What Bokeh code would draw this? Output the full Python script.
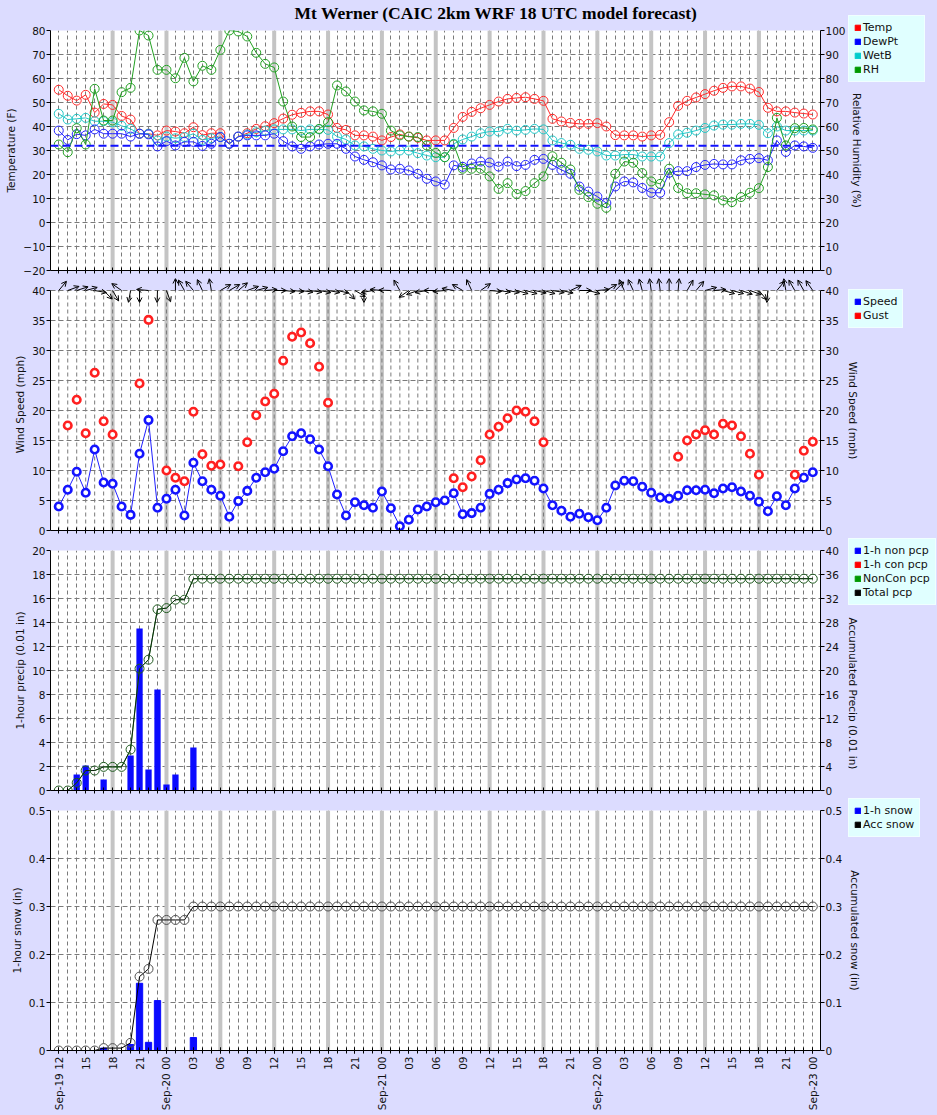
import math
import numpy as np
from bokeh.plotting import figure
from bokeh.models import (Range1d, LinearAxis, FixedTicker, Span, Legend, LegendItem, Label,
                          ColumnDataSource, Arrow, OpenHead, CustomJSTickFormatter, BoxAnnotation)
from bokeh.layouts import column, row
from bokeh.embed import file_html
from bokeh.resources import INLINE

NaN = float("nan")

# ---------------- data ----------------
title_text = "Mt Werner (CAIC 2km WRF 18 UTC model forecast)"
hours = list(range(85))  # hours after Sep-19 12 UTC
tick_hours = list(range(0, 85, 3))
tick_labels = ["Sep-19 12", "15", "18", "21", "Sep-20 00", "03", "06", "09", "12", "15", "18", "21",
               "Sep-21 00", "03", "06", "09", "12", "15", "18", "21",
               "Sep-22 00", "03", "06", "09", "12", "15", "18", "21", "Sep-23 00"]
day_lines = list(range(6, 84, 6))

temp = [55.3, 52.8, 50.8, 53.2, 45.8, 49.4, 49.0, 44.4, 42.9, 37.0,
        37.0, 36.3, 38.3, 37.9, 37.2, 39.7, 36.4, 37.2, 37.2, 32.8,
        35.8, 37.2, 39.0, 40.1, 41.4, 43.3, 44.9, 45.7, 46.3, 46.3,
        45.0, 39.4, 38.6, 36.3, 36.3, 35.8, 34.2, 35.6, 36.7, 35.8,
        35.3, 34.2, 34.2, 34.2, 39.4, 44.0, 46.1, 47.6, 49.0, 50.4,
        51.5, 51.9, 52.2, 51.5, 50.7, 43.2, 42.1, 41.5, 41.1, 41.1,
        41.4, 40.0, 36.4, 36.3, 36.3, 35.8, 36.3, 36.5, 41.8, 48.6,
        50.7, 52.1, 53.5, 54.9, 56.1, 56.7, 56.7, 55.8, 54.4, 47.8,
        46.3, 46.3, 45.8, 45.4, 45.0]
dewpt = [38.3, 34.4, 36.8, 36.3, 38.8, 37.0, 37.0, 37.0, 35.8, 37.0,
         36.7, 31.7, 33.9, 32.1, 33.6, 33.6, 31.9, 32.8, 35.6, 32.8,
         35.8, 36.3, 36.3, 36.3, 37.0, 33.9, 31.7, 30.7, 31.7, 32.5,
         32.8, 32.8, 30.7, 27.5, 26.1, 25.1, 23.8, 22.1, 22.4, 21.7,
         20.3, 18.2, 17.1, 15.8, 23.8, 23.2, 24.6, 25.4, 25.0, 23.3,
         25.4, 23.5, 24.0, 26.1, 26.5, 24.0, 21.9, 20.3, 15.0, 12.9,
         10.8, 8.1, 15.0, 17.1, 16.7, 14.4, 12.4, 12.4, 20.7, 21.4,
         21.4, 23.1, 24.0, 24.4, 24.2, 24.2, 25.9, 26.5, 26.8, 25.9,
         34.2, 29.4, 32.1, 31.7, 31.1]
wetb = [45.3, 42.9, 43.2, 43.6, 42.2, 42.2, 41.8, 40.3, 39.0, 37.0,
        37.0, 34.2, 35.8, 35.1, 35.6, 37.0, 34.4, 35.1, 35.6, 32.8,
        35.8, 36.7, 37.6, 38.3, 38.8, 38.8, 38.8, 38.3, 38.8, 38.8,
        38.6, 35.8, 34.6, 32.1, 31.7, 30.7, 30.0, 29.6, 30.0, 30.0,
        28.9, 27.9, 27.2, 27.2, 32.8, 34.6, 35.8, 37.2, 37.9, 37.9,
        39.0, 38.3, 38.6, 39.0, 38.8, 34.2, 33.1, 32.4, 30.7, 30.3,
        29.6, 27.9, 27.9, 28.3, 28.3, 27.5, 27.5, 27.5, 33.1, 36.7,
        37.4, 38.3, 39.4, 40.4, 40.8, 40.8, 41.1, 41.1, 40.7, 37.2,
        40.0, 38.3, 38.3, 38.3, 38.3]
rh = [52.5, 49.3, 59.3, 52.5, 75.7, 62.5, 62.5, 74.3, 76.1, 100.0,
      97.9, 83.6, 83.6, 80.1, 88.6, 78.8, 85.3, 83.6, 91.9, 100.0,
      99.6, 97.5, 90.7, 86.1, 84.6, 70.4, 60.0, 55.6, 55.6, 59.0,
      61.8, 77.1, 74.6, 70.4, 66.7, 66.3, 65.3, 58.3, 56.3, 55.8,
      55.6, 52.1, 49.0, 47.2, 52.5, 42.4, 42.4, 42.4, 39.2, 34.0,
      36.4, 31.9, 33.1, 36.4, 39.2, 47.6, 44.9, 42.1, 33.6, 30.6,
      27.8, 26.1, 40.3, 45.4, 44.9, 40.6, 37.1, 36.1, 42.4, 34.4,
      32.2, 32.2, 31.7, 31.3, 29.2, 28.5, 30.6, 32.4, 34.3, 43.1,
      63.6, 52.1, 59.3, 59.4, 58.8]
freezing_f = 32

speed = [4.0, 6.8, 9.8, 6.3, 13.5, 8.0, 7.8, 4.0, 2.6, 12.8,
         18.4, 3.8, 5.3, 6.8, 2.5, 11.3, 8.2, 6.8, 5.8, 2.3,
         4.9, 6.6, 8.8, 9.7, 10.3, 13.2, 15.7, 16.2, 15.2, 13.5,
         10.7, 6.0, 2.5, 4.7, 4.2, 3.8, 6.5, 3.7, 0.7, 1.8,
         3.5, 4.0, 4.7, 5.0, 6.2, 2.7, 2.9, 3.8, 6.1, 6.8,
         7.9, 8.5, 8.7, 8.3, 7.0, 4.2, 3.3, 2.3, 2.8, 2.2,
         1.7, 3.8, 7.5, 8.3, 8.2, 7.3, 6.3, 5.5, 5.3, 5.8,
         6.7, 6.7, 6.8, 6.2, 7.0, 7.2, 6.5, 5.8, 4.8, 3.2,
         5.7, 4.2, 7.0, 8.8, 9.7]
gust = [NaN, 17.5, 21.8, 16.2, 26.3, 18.2, 16.0, NaN, NaN, 24.5,
        35.1, NaN, 10.0, 8.8, 8.2, 19.8, 12.7, 10.8, 11.0, NaN,
        10.7, 14.7, 19.2, 21.5, 22.8, 28.3, 32.3, 33.0, 31.2, 27.3,
        21.3, NaN, NaN, NaN, NaN, NaN, NaN, NaN, NaN, NaN,
        NaN, NaN, NaN, NaN, 8.7, 7.2, 9.0, 11.7, 16.0, 17.3,
        18.7, 20.0, 19.8, 18.2, 14.7, NaN, NaN, NaN, NaN, NaN,
        NaN, NaN, NaN, NaN, NaN, NaN, NaN, NaN, NaN, 12.3,
        15.0, 16.0, 16.7, 16.0, 17.8, 17.5, 15.7, 12.8, 9.3, NaN,
        NaN, NaN, 9.3, 13.3, 14.8]
# meteorological wind direction (degrees, direction the wind blows from)
wind_dir = [220, 250, 252, 255, 280, 315, 330, 125, 10, 0,
            95, 2, 340, 180, 150, 140, 155, 170, 240, 240,
            230, 250, 255, 265, 270, 275, 275, 278, 278, 280,
            280, 282, 315, 300, 0, 80, 95, 92, 150, 55,
            70, 80, 90, 85, 100, 120, 155, 235, 275, 278,
            280, 285, 285, 282, 285, 280, 282, 245, 270, 285,
            265, 240, 225, 155, 155, 165, 172, 173, 180, 185,
            210, 220, 255, 265, 285, 285, 288, 290, 320, 5,
            220, 170, 150, 150, 145]

pcp_non = [0, 0, 1.33, 2.08, 0, 0.92, 0, 0, 2.92, 13.5,
           1.75, 8.42, 0.5, 1.33, 0, 3.58] + [0] * 69
pcp_con = [0] * 85
acc_pcp = [0, 0, 1.28, 3.33, 3.33, 3.94, 3.94, 3.94, 6.83, 20.3,
           21.8, 30.2, 30.4, 31.8, 31.8] + [35.3] * 70

snow_1h = [0, 0, 0, 0, 0, 0.005, 0, 0, 0.0125, 0.14,
           0.017, 0.104, 0, 0, 0, 0.027] + [0] * 69
acc_snow = [0, 0, 0, 0, 0, 0.005, 0.005, 0.005, 0.016, 0.154,
            0.170, 0.272, 0.272, 0.272, 0.272] + [0.3] * 70

# ---------------- style ----------------
BG = "#dcdcff"
LEG_BG = "#e0ffff"
FONT = "DejaVu Sans"
X0, X1 = -0.92, 84.86
MAIN_W = 848
SIDE_W = 937 - MAIN_W
FRAME_W = 772
GRID_C = "#7a7a7a"
TXT = "#111111"
C_TEMP, C_DEW, C_WET, C_RH = "#ff2a2a", "#2424ff", "#22c8c8", "#22a022"
TITLE_H = 22


def style_y_axis(ax, label, ticks, fmt=None, bounds=None):
    ax.ticker = FixedTicker(ticks=ticks)
    ax.axis_label = label
    ax.axis_label_text_font = FONT
    ax.axis_label_text_font_size = "10.5px"
    ax.axis_label_text_font_style = "normal"
    ax.axis_label_text_color = TXT
    ax.axis_label_standoff = 3
    ax.major_label_text_font = FONT
    ax.major_label_text_font_size = "10.5px"
    ax.major_label_text_color = TXT
    ax.major_label_standoff = 1
    ax.major_tick_in = 0
    ax.major_tick_out = 4
    ax.minor_tick_line_color = None
    ax.axis_line_color = "black"
    ax.major_tick_line_color = "black"
    if fmt is not None:
        ax.formatter = fmt
    if bounds is not None:
        ax.bounds = bounds


def make_fig(height, top, bottom, y0, y1, yticks, ylabel, show_x_labels=False, fmt=None,
             strip=False):
    p = figure(width=MAIN_W, height=height, x_range=Range1d(X0, X1), y_range=Range1d(y0, y1),
               output_backend="svg", toolbar_location=None, title=None,
               min_border_left=50, min_border_right=26,
               min_border_top=top, min_border_bottom=bottom,
               background_fill_color=BG if strip else "white", border_fill_color=BG,
               outline_line_color=None)
    xa = p.xaxis[0]
    if show_x_labels:
        xa.ticker = FixedTicker(ticks=tick_hours, minor_ticks=hours)
        xa.major_label_overrides = dict(zip(tick_hours, tick_labels))
        xa.major_label_orientation = math.pi / 2
        xa.major_label_text_font = FONT
        xa.major_label_text_font_size = "10.5px"
        xa.major_label_text_color = TXT
        xa.major_label_standoff = 3
    else:
        xa.ticker = FixedTicker(ticks=[], minor_ticks=hours)
        xa.major_label_standoff = 0
    xa.major_tick_in = 3
    xa.major_tick_out = 3
    xa.minor_tick_in = 3
    xa.minor_tick_out = 3
    xa.minor_tick_line_color = "black"
    xa.major_tick_line_color = "black"
    xa.axis_line_color = "black"
    p.ygrid.ticker = FixedTicker(ticks=yticks)
    p.ygrid.grid_line_color = GRID_C
    p.ygrid.grid_line_dash = "5 3"
    p.ygrid.grid_line_width = 1
    style_y_axis(p.yaxis[0], ylabel, yticks, fmt, bounds=(y0, yticks[-1]) if strip else None)
    if strip:
        # white plotting area only up to the top tick; the strip above holds wind arrows
        p.add_layout(BoxAnnotation(bottom=y0, top=yticks[-1], fill_color="white", fill_alpha=1.0,
                                   line_color=None, level="image"))
        p.xgrid.visible = False
        p.segment(x0=day_lines, y0=y0, x1=day_lines, y1=yticks[-1],
                  line_color="#c4c4c4", line_width=4)
        p.segment(x0=hours, y0=y0, x1=hours, y1=yticks[-1],
                  line_color=GRID_C, line_width=1, line_dash="4 3")
    else:
        p.xgrid.ticker = FixedTicker(ticks=hours)
        p.xgrid.grid_line_color = GRID_C
        p.xgrid.grid_line_dash = "4 3"
        p.xgrid.grid_line_width = 1
        for h in day_lines:
            p.add_layout(Span(location=h, dimension="height", line_color="#c4c4c4",
                              line_width=4, level="underlay"))
    return p


def add_right_axis(p, ticks, range_name=None, fmt=None, bounds=None):
    ax = LinearAxis(y_range_name=range_name) if range_name else LinearAxis()
    style_y_axis(ax, None, ticks, fmt, bounds)
    p.add_layout(ax, "right")
    return ax


def blank_fig(width, height):
    return figure(width=width, height=height, x_range=Range1d(0, width), y_range=Range1d(0, height),
                  output_backend="svg", toolbar_location=None, x_axis_type=None, y_axis_type=None,
                  min_border=0, min_border_left=0, min_border_right=0, min_border_top=0,
                  min_border_bottom=0, background_fill_color=BG, border_fill_color=BG,
                  outline_line_color=None)


# ---------------- title strip ----------------
title_fig = blank_fig(MAIN_W, TITLE_H)
title_fig.add_layout(Label(x=446, y=TITLE_H - 12, x_units="screen", y_units="screen",
                           text=title_text, text_align="center", text_baseline="middle",
                           text_font="Liberation Serif", text_font_size="17.5px",
                           text_font_style="bold", text_color="black"))

# ---------------- panel 1: temperatures ----------------
p1 = make_fig(278 - TITLE_H, 30 - TITLE_H, 8, -20, 80, list(range(-20, 81, 10)), "Temperature (F)")
p1.extra_y_ranges = {"rh": Range1d(0, 100)}
add_right_axis(p1, list(range(0, 101, 10)), "rh")
p1.add_layout(Span(location=freezing_f, dimension="width", line_color="#1010ff",
                   line_width=2, line_dash="8 4"))
for series, color, rng in [(temp, C_TEMP, "default"), (wetb, C_WET, "default"),
                           (dewpt, C_DEW, "default"), (rh, C_RH, "rh")]:
    p1.line(hours, series, line_color=color, line_width=1, y_range_name=rng)
    p1.scatter(hours, series, marker="circle", size=9, fill_color=None,
               line_color=color, line_width=1, y_range_name=rng)

# ---------------- panel 2: wind ----------------
P2_TOP = 42.0  # strip above the 40 mph line for the direction arrows
p2 = make_fig(260, 0, 8, 0, P2_TOP, list(range(0, 41, 5)), "Wind Speed (mph)", strip=True)
add_right_axis(p2, list(range(0, 41, 5)), bounds=(0, 40))
p2.line(hours, speed, line_color="#2020ff", line_width=1)
p2.scatter(hours, speed, marker="circle", size=7.5, fill_color="white",
           line_color="#1414ff", line_width=2.6)
p2.scatter(hours, np.array(gust), marker="circle", size=7.5, fill_color="white",
           line_color="#ff2020", line_width=2.6)
px_per_hr = FRAME_W / (X1 - X0)
px_per_mph = 240 / 40.0
ARROW_PX = 12
ang = [math.radians(270 - d) for d in wind_dir]
arrow_src = ColumnDataSource(dict(
    x0=hours, y0=[40] * len(hours),
    x1=[h + ARROW_PX * math.cos(a) / px_per_hr for h, a in zip(hours, ang)],
    y1=[40 + ARROW_PX * math.sin(a) / px_per_mph for a in ang]))
p2.add_layout(Arrow(source=arrow_src, x_start="x0", y_start="y0", x_end="x1", y_end="y1",
                    line_color="black", line_width=1,
                    end=OpenHead(size=5, line_color="black", line_width=1)))

# ---------------- panel 3: precip ----------------
p3 = make_fig(260, 12, 8, 0, 20, list(range(0, 21, 2)), "1-hour precip (0.01 in)")
p3.extra_y_ranges = {"acc": Range1d(0, 40)}
add_right_axis(p3, list(range(0, 41, 4)), "acc")
p3.vbar(x=hours, top=pcp_non, width=0.7, fill_color="#0a0aff", line_color=None)
p3.vbar(x=hours, top=pcp_con, width=0.7, fill_color="#ff0000", line_color=None)
p3.line(hours, acc_pcp, line_color="#20a020", line_width=1, y_range_name="acc")
p3.line(hours, acc_pcp, line_color="#102010", line_width=1, y_range_name="acc")
p3.scatter(hours, acc_pcp, marker="circle", size=9, fill_color=None,
           line_color="#1f5a1f", line_width=1, y_range_name="acc")

# ---------------- panel 4: snow ----------------
snow_ticks = [0, 0.1, 0.2, 0.3, 0.4, 0.5]
p4 = make_fig(317, 12, 65, 0, 0.5, snow_ticks, "1-hour snow (in)", show_x_labels=True,
              fmt=CustomJSTickFormatter(code="return tick === 0 ? '0' : tick.toFixed(1);"))
add_right_axis(p4, snow_ticks,
               fmt=CustomJSTickFormatter(code="return tick === 0 ? '0' : tick.toFixed(1);"))
p4.vbar(x=hours, top=snow_1h, width=0.7, fill_color="#0a0aff", line_color="#0a0aff", line_width=1)
p4.line(hours, acc_snow, line_color="black", line_width=1)
p4.scatter(hours, acc_snow, marker="circle", size=9, fill_color=None,
           line_color="#505050", line_width=1)

# ---------------- side column: legends and right-axis titles ----------------
H = 1115
side = blank_fig(SIDE_W, H)

# legend swatch holders, kept outside the visible range of the side column
swatch = dict(left=[-30], right=[-20], bottom=[-30], top=[-20])


def add_legend(items, bottom_from_top, label_width):
    leg_items = []
    for label, color in items:
        r = side.quad(fill_color=color, line_color=color, **swatch)
        leg_items.append(LegendItem(label=label, renderers=[r]))
    leg = Legend(items=leg_items, location=(0, H - bottom_from_top), orientation="vertical",
                 background_fill_color=LEG_BG, background_fill_alpha=1.0,
                 border_line_color="white", border_line_width=1,
                 glyph_width=7, glyph_height=7, label_height=12, label_width=label_width,
                 label_standoff=2, spacing=1, padding=5, margin=0,
                 label_text_font=FONT, label_text_font_size="11px",
                 label_text_color=TXT)
    side.add_layout(leg)


add_legend([("Temp", "#ff0000"), ("DewPt", "#0000ff"), ("WetB", "#00cccc"), ("RH", "#009900")],
           82, 56)
add_legend([("Speed", "#0000ff"), ("Gust", "#ff0000")], 328, 28)
add_legend([("1-h non pcp", "#0000ff"), ("1-h con pcp", "#ff0000"),
            ("NonCon pcp", "#009900"), ("Total pcp", "#000000")], 605, 62)
add_legend([("1-h snow", "#0000ff"), ("Acc snow", "#000000")], 837, 46)

for text, x, yc in [("Relative Humidity (%)", 8.5, 150), ("Wind Speed (mph)", 4.5, 410),
                    ("Accumulated Precip (0.01 in)", 4.5, 693), ("Accumulated snow (in)", 6.5, 930)]:
    side.add_layout(Label(x=x, y=H - yc, x_units="screen", y_units="screen", text=text,
                          angle=-math.pi / 2, text_align="center", text_baseline="middle",
                          text_font=FONT, text_font_size="10.5px", text_color=TXT))

layout = row(column(title_fig, p1, p2, p3, p4, spacing=0), side, spacing=0)
html = file_html(layout, INLINE, title="Mt Werner")
html = html.replace("</head>", "<style>html,body{margin:0;padding:0;background:#dcdcff;}</style></head>", 1)
with open("out.html", "w") as f:
    f.write(html)
